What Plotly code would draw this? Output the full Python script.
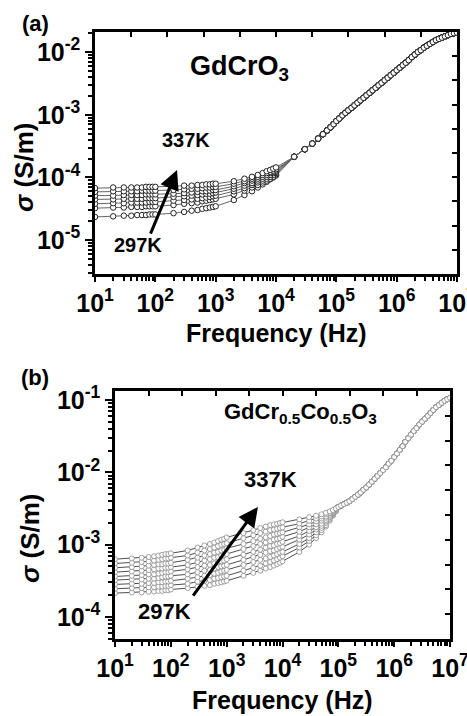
import plotly.graph_objects as go

# ---------------- data: panel (a) GdCrO3 ----------------
temps_a = [297, 304, 310, 317, 324, 330, 337]
freq_a_low = [10, 20, 30, 40, 50, 60, 70, 80, 90,
              100, 200, 300, 400, 500, 600, 700, 800, 900,
              1000, 2000, 3000, 4000, 5000, 6000, 7000, 8000, 9000, 10000]
# log10(sigma) per temperature (297K ... 337K)
logsig_a_low = [
    [-4.63,-4.62,-4.61,-4.61,-4.60,-4.60,-4.60,-4.59,-4.59,-4.59,-4.57,-4.55,-4.53,-4.52,-4.50,-4.49,-4.48,-4.47,-4.46,-4.36,-4.28,-4.22,-4.16,-4.11,-4.07,-4.03,-4.00,-3.97],
    [-4.49,-4.48,-4.48,-4.47,-4.47,-4.47,-4.46,-4.46,-4.46,-4.46,-4.44,-4.42,-4.41,-4.40,-4.38,-4.37,-4.36,-4.35,-4.34,-4.27,-4.21,-4.16,-4.12,-4.08,-4.05,-4.02,-3.99,-3.95],
    [-4.42,-4.41,-4.41,-4.40,-4.40,-4.40,-4.40,-4.39,-4.39,-4.39,-4.37,-4.36,-4.35,-4.34,-4.33,-4.32,-4.31,-4.30,-4.29,-4.22,-4.17,-4.12,-4.08,-4.05,-4.02,-3.99,-3.96,-3.93],
    [-4.35,-4.35,-4.34,-4.34,-4.34,-4.34,-4.33,-4.33,-4.33,-4.33,-4.31,-4.30,-4.29,-4.28,-4.27,-4.26,-4.26,-4.25,-4.24,-4.18,-4.13,-4.09,-4.05,-4.02,-3.99,-3.96,-3.93,-3.91],
    [-4.29,-4.29,-4.28,-4.28,-4.28,-4.28,-4.27,-4.27,-4.27,-4.27,-4.26,-4.25,-4.24,-4.23,-4.22,-4.22,-4.21,-4.20,-4.20,-4.14,-4.09,-4.05,-4.02,-3.99,-3.96,-3.93,-3.91,-3.89],
    [-4.23,-4.22,-4.22,-4.22,-4.22,-4.21,-4.21,-4.21,-4.21,-4.21,-4.20,-4.19,-4.18,-4.18,-4.17,-4.16,-4.16,-4.15,-4.15,-4.10,-4.06,-4.02,-3.99,-3.96,-3.93,-3.91,-3.89,-3.87],
    [-4.17,-4.16,-4.16,-4.16,-4.16,-4.16,-4.15,-4.15,-4.15,-4.15,-4.14,-4.13,-4.13,-4.12,-4.12,-4.11,-4.11,-4.10,-4.10,-4.06,-4.02,-3.99,-3.96,-3.93,-3.90,-3.88,-3.86,-3.84],
]
freq_tail_common = [1.00e5, 1.12e5, 1.26e5, 1.41e5, 1.58e5, 1.78e5, 2.00e5, 2.24e5, 2.51e5, 2.82e5,
                    3.16e5, 3.55e5, 3.98e5, 4.47e5, 5.01e5, 5.62e5, 6.31e5, 7.08e5, 7.94e5, 8.91e5,
                    1.00e6, 1.12e6, 1.26e6, 1.41e6, 1.58e6, 1.78e6, 2.00e6, 2.24e6, 2.51e6, 2.82e6,
                    3.16e6, 3.55e6, 3.98e6, 4.47e6, 5.01e6, 5.62e6, 6.31e6, 7.08e6, 7.94e6, 8.91e6, 1.00e7]
freq_a_mid = [20000, 30000, 40000, 50000, 60000, 70000, 80000, 90000]
logsig_a_mid = [-3.67, -3.55, -3.46, -3.38, -3.31, -3.25, -3.20, -3.15]
logsig_a_tail = [-3.10,-3.06,-3.01,-2.97,-2.93,-2.89,-2.85,-2.81,-2.77,-2.73,
                 -2.69,-2.65,-2.61,-2.57,-2.53,-2.49,-2.45,-2.41,-2.37,-2.33,
                 -2.29,-2.25,-2.21,-2.17,-2.13,-2.08,-2.04,-2.00,-1.97,-1.93,
                 -1.90,-1.87,-1.84,-1.81,-1.79,-1.77,-1.75,-1.73,-1.71,-1.70,-1.69]

# ---------------- data: panel (b) GdCr0.5Co0.5O3 ----------------
temps_b = [297, 302, 307, 312, 317, 322, 327, 332, 337]
freq_b_low = [10, 20, 30, 40, 50, 60, 70, 80, 90,
              100, 200, 300, 400, 500, 600, 700, 800, 900,
              1000, 2000, 3000, 4000, 5000, 6000, 7000, 8000, 9000,
              10000, 20000, 30000, 40000, 50000, 60000, 70000, 80000, 90000]
logsig_b_low = [
    [-3.67,-3.66,-3.66,-3.65,-3.65,-3.64,-3.64,-3.63,-3.63,-3.62,-3.60,-3.58,-3.57,-3.56,-3.54,-3.53,-3.52,-3.51,-3.50,-3.43,-3.39,-3.36,-3.33,-3.31,-3.29,-3.27,-3.25,-3.23,-3.10,-3.00,-2.91,-2.83,-2.75,-2.67,-2.60,-2.54],
    [-3.61,-3.60,-3.60,-3.59,-3.59,-3.58,-3.58,-3.57,-3.57,-3.56,-3.54,-3.51,-3.50,-3.49,-3.47,-3.46,-3.45,-3.44,-3.43,-3.36,-3.32,-3.29,-3.26,-3.24,-3.22,-3.20,-3.18,-3.16,-3.04,-2.95,-2.87,-2.80,-2.73,-2.65,-2.59,-2.54],
    [-3.55,-3.54,-3.54,-3.53,-3.53,-3.52,-3.52,-3.51,-3.51,-3.50,-3.47,-3.45,-3.43,-3.42,-3.40,-3.39,-3.37,-3.36,-3.35,-3.28,-3.24,-3.21,-3.19,-3.17,-3.15,-3.13,-3.11,-3.10,-2.99,-2.91,-2.83,-2.77,-2.70,-2.64,-2.58,-2.53],
    [-3.49,-3.48,-3.48,-3.47,-3.47,-3.46,-3.45,-3.44,-3.44,-3.43,-3.41,-3.38,-3.36,-3.35,-3.33,-3.31,-3.30,-3.29,-3.28,-3.21,-3.17,-3.14,-3.11,-3.09,-3.08,-3.06,-3.04,-3.03,-2.93,-2.86,-2.79,-2.74,-2.68,-2.62,-2.57,-2.53],
    [-3.44,-3.43,-3.42,-3.41,-3.41,-3.40,-3.39,-3.38,-3.38,-3.37,-3.34,-3.31,-3.29,-3.28,-3.26,-3.24,-3.23,-3.22,-3.20,-3.14,-3.10,-3.07,-3.04,-3.02,-3.01,-2.99,-2.98,-2.96,-2.88,-2.81,-2.76,-2.71,-2.66,-2.61,-2.56,-2.52],
    [-3.38,-3.37,-3.36,-3.35,-3.34,-3.33,-3.33,-3.32,-3.32,-3.31,-3.28,-3.24,-3.22,-3.20,-3.18,-3.17,-3.15,-3.14,-3.13,-3.06,-3.02,-2.99,-2.97,-2.95,-2.93,-2.92,-2.91,-2.89,-2.82,-2.76,-2.72,-2.67,-2.63,-2.59,-2.55,-2.52],
    [-3.32,-3.31,-3.30,-3.29,-3.28,-3.27,-3.27,-3.26,-3.26,-3.25,-3.21,-3.18,-3.15,-3.13,-3.11,-3.10,-3.08,-3.07,-3.05,-2.99,-2.95,-2.92,-2.90,-2.88,-2.86,-2.85,-2.84,-2.83,-2.76,-2.72,-2.68,-2.64,-2.61,-2.57,-2.54,-2.51],
    [-3.26,-3.25,-3.24,-3.23,-3.22,-3.21,-3.20,-3.19,-3.19,-3.18,-3.15,-3.11,-3.08,-3.06,-3.04,-3.02,-3.00,-2.99,-2.98,-2.91,-2.87,-2.84,-2.82,-2.80,-2.79,-2.78,-2.77,-2.76,-2.71,-2.67,-2.64,-2.61,-2.58,-2.56,-2.53,-2.50],
    [-3.20,-3.19,-3.18,-3.17,-3.16,-3.15,-3.14,-3.13,-3.13,-3.12,-3.08,-3.04,-3.01,-2.99,-2.97,-2.95,-2.93,-2.92,-2.90,-2.84,-2.80,-2.77,-2.75,-2.73,-2.72,-2.71,-2.70,-2.69,-2.65,-2.62,-2.60,-2.58,-2.56,-2.54,-2.52,-2.50],
]
logsig_b_tail = [-2.48,-2.46,-2.44,-2.42,-2.40,-2.37,-2.34,-2.31,-2.28,-2.24,
                 -2.21,-2.17,-2.13,-2.09,-2.05,-2.01,-1.97,-1.93,-1.88,-1.84,
                 -1.79,-1.74,-1.69,-1.64,-1.58,-1.53,-1.48,-1.43,-1.39,-1.34,
                 -1.30,-1.26,-1.22,-1.18,-1.14,-1.10,-1.07,-1.04,-1.01,-0.99,-0.97]

x_tickvals = [1e1, 1e2, 1e3, 1e4, 1e5, 1e6, 1e7]
x_ticktext = ["10<sup>1</sup>", "10<sup>2</sup>", "10<sup>3</sup>", "10<sup>4</sup>",
              "10<sup>5</sup>", "10<sup>6</sup>", "10<sup>7</sup>"]
ya_tickvals = [1e-5, 1e-4, 1e-3, 1e-2]
ya_ticktext = ["10<sup>-5</sup>", "10<sup>-4</sup>", "10<sup>-3</sup>", "10<sup>-2</sup>"]
yb_tickvals = [1e-4, 1e-3, 1e-2, 1e-1]
yb_ticktext = ["10<sup>-4</sup>", "10<sup>-3</sup>", "10<sup>-2</sup>", "10<sup>-1</sup>"]

# ---------------- figure ----------------
W, H = 467, 716
FONT = "Liberation Sans, Arial, sans-serif"

fig = go.Figure()

for i, t in enumerate(temps_a):
    xs = freq_a_low + freq_a_mid + freq_tail_common
    ys = [10 ** v for v in (logsig_a_low[i] + logsig_a_mid + logsig_a_tail)]
    fig.add_trace(go.Scatter(
        x=xs, y=ys, mode="lines+markers", name=f"{t} K", xaxis="x", yaxis="y",
        line=dict(color="#666666", width=1),
        marker=dict(symbol="circle", size=5.5, color="white",
                    line=dict(color="#222222", width=1)),
        showlegend=False, hoverinfo="skip"))

for i, t in enumerate(temps_b):
    xs = freq_b_low + freq_tail_common
    ys = [10 ** v for v in (logsig_b_low[i] + logsig_b_tail)]
    fig.add_trace(go.Scatter(
        x=xs, y=ys, mode="lines+markers", name=f"{t} K", xaxis="x3", yaxis="y3",
        line=dict(color="#222222", width=0.8),
        marker=dict(symbol="circle", size=5, color="white",
                    line=dict(color="#8a8a8a", width=0.8)),
        showlegend=False, hoverinfo="skip"))

# empty traces so the mirrored (top/right) tick axes are drawn
fig.add_trace(go.Scatter(x=[], y=[], xaxis="x2", yaxis="y", showlegend=False))
fig.add_trace(go.Scatter(x=[], y=[], xaxis="x", yaxis="y2", showlegend=False))
fig.add_trace(go.Scatter(x=[], y=[], xaxis="x4", yaxis="y3", showlegend=False))
fig.add_trace(go.Scatter(x=[], y=[], xaxis="x3", yaxis="y4", showlegend=False))

minor_x = [k * 10 ** e for e in range(1, 7) for k in range(2, 10)]
minor_ya = [k * 10.0 ** e for e in range(-6, -1) for k in range(2, 10)]
minor_yb = [k * 10.0 ** e for e in range(-5, 0) for k in range(2, 10)]

dom_xa = [95 / W, 457 / W]
dom_ya = [1 - 274 / H, 1 - 32 / H]
dom_xb = [115 / W, 450 / W]
dom_yb = [1 - 639 / H, 1 - 391 / H]

tickfont = dict(family=FONT, size=25, color="black", weight="bold")


def main_axis(domain, anchor, rng, tv, tt, minor_vals, ticklen=7):
    return dict(
        type="log", domain=domain, anchor=anchor, range=rng,
        showline=True, linecolor="black", linewidth=2.5, mirror=True,
        ticks="outside", ticklen=ticklen, tickwidth=2, tickcolor="black",
        tickmode="array", tickvals=tv, ticktext=tt, tickfont=tickfont,
        ticklabeloverflow="allow",
        minor=dict(tickmode="array", tickvals=minor_vals, ticks="outside",
                   ticklen=4, tickwidth=1.5, tickcolor="black", showgrid=False),
        showgrid=False, zeroline=False, automargin=False)


def mirror_axis(overlay, anchor, side):
    return dict(
        overlaying=overlay, anchor=anchor, side=side, range=[0, 10],
        tickmode="linear", tick0=0, dtick=1, ticks="inside", ticklen=5,
        tickwidth=2, tickcolor="black", showticklabels=False,
        showline=False, showgrid=False, zeroline=False, automargin=False)


fig.update_layout(
    width=W, height=H, margin=dict(l=0, r=0, t=0, b=0),
    paper_bgcolor="white", plot_bgcolor="white", showlegend=False,
    xaxis=main_axis(dom_xa, "y", [1, 7], x_tickvals, x_ticktext, minor_x, ticklen=5),
    yaxis=main_axis(dom_ya, "x", [-5.54, -1.68], ya_tickvals, ya_ticktext, minor_ya),
    xaxis2=mirror_axis("x", "y", "top"),
    yaxis2=mirror_axis("y", "x", "right"),
    xaxis3=main_axis(dom_xb, "y3", [1, 7], x_tickvals, x_ticktext, minor_x, ticklen=5),
    yaxis3=main_axis(dom_yb, "x3", [-4.304, -0.876], yb_tickvals, yb_ticktext, minor_yb),
    xaxis4=mirror_axis("x3", "y3", "top"),
    yaxis4=mirror_axis("y3", "x3", "right"),
)


def txt(text, x, y, size, xref="paper", yref="paper", xanchor="center", yanchor="middle", angle=0):
    return dict(text=text, x=x, y=y, xref=xref, yref=yref, showarrow=False,
                xanchor=xanchor, yanchor=yanchor, textangle=angle,
                font=dict(family=FONT, size=size, color="black", weight="bold"))


annotations = [
    txt("(a)", 35 / W, 1 - 24 / H, 22),
    txt("(b)", 35 / W, 1 - 377 / H, 22),
    txt("<i>σ</i> (S/m)", 24 / W, 1 - 167 / H, 26, angle=-90),
    txt("<i>σ</i> (S/m)", 30 / W, 1 - 538 / H, 26, angle=-90),
    txt("Frequency (Hz)", 276 / W, 1 - 333 / H, 25),
    txt("Frequency (Hz)", 282 / W, 1 - 700 / H, 25),
    txt("GdCrO<sub>3</sub>", 188 / W, 1 - 68 / H, 27, xanchor="left"),
    txt("GdCr<sub>0.5</sub>Co<sub>0.5</sub>O<sub>3</sub>", 222 / W, 1 - 413 / H, 22, xanchor="left"),
    txt("337K", 2.51, -3.40, 20, xref="x", yref="y"),
    txt("297K", 1.71, -5.08, 20, xref="x", yref="y"),
    txt("337K", 3.79, -2.106, 22, xref="x3", yref="y3"),
    txt("297K", 1.88, -3.917, 22, xref="x3", yref="y3"),
    dict(text="", x=2.36, y=-3.88, xref="x", yref="y", ax=1.91, ay=-4.92,
         axref="x", ayref="y", showarrow=True, arrowhead=2, arrowsize=1.3,
         arrowwidth=3, arrowcolor="black"),
    dict(text="", x=3.56, y=-2.479, xref="x3", yref="y3", ax=2.38, ay=-3.724,
         axref="x3", ayref="y3", showarrow=True, arrowhead=2, arrowsize=1.3,
         arrowwidth=3, arrowcolor="black"),
]
fig.update_layout(annotations=annotations)

fig.write_html("out.html")
